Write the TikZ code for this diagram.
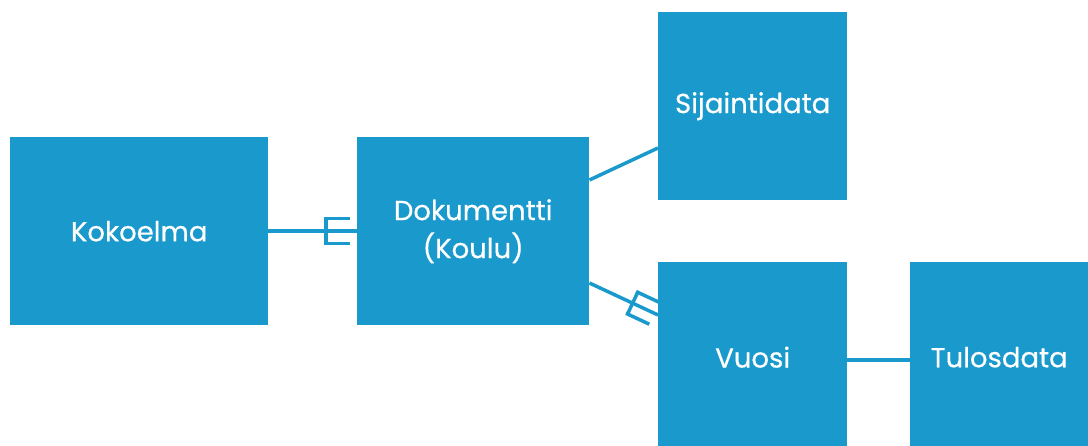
\documentclass[tikz,border=0pt]{standalone}
\usepackage{fontspec}
\newfontfamily\boxfont{Poppins}[FakeBold=0.5]
\usetikzlibrary{calc}
\definecolor{boxblue}{RGB}{26,153,204}
\tikzset{
  entity/.style={fill=boxblue, text=white, inner sep=0pt, anchor=north west,
    font=\boxfont\fontsize{27.5}{38}\selectfont, align=center},
  link/.style={draw=boxblue, line width=3.5pt},
}
\begin{document}
\begin{tikzpicture}[x=1pt,y=-1pt]
\useasboundingbox (0,0) rectangle (1088,446);
% entities
\node[entity, minimum width=258pt, minimum height=188pt] (kok) at (10,137) {\raisebox{-2pt}{Kokoelma}};
\node[entity, minimum width=232pt, minimum height=188pt] (dok) at (357,137) {\raisebox{-2pt}{Dokumentti}\\\raisebox{-2pt}{(Koulu)}};
\node[entity, minimum width=189pt, minimum height=188pt] (sij) at (658,12) {Sijaintidata};
\node[entity, minimum width=189pt, minimum height=190pt] (vuo) at (658,262) {Vuosi};
\node[entity, minimum width=178pt, minimum height=190pt] (tul) at (910,262) {Tulosdata};
% connection points on the box edges
\coordinate (dokR1) at ($(dok.north east)+(0,43)$);
\coordinate (sijL) at ($(sij.north west)+(0,136)$);
\coordinate (dokR2) at ($(dok.north east)+(0,146)$);
\coordinate (vuoL) at ($(vuo.north west)+(0,53)$);
% relations
\draw[link] (kok.east) -- (dok.west);
\draw[link] (dokR1) -- (sijL);
\draw[link] (dokR2) -- (vuoL);
\draw[link] ($(vuo.east)+(0,3)$) -- ($(tul.west)+(0,3)$);
% crow's foot: Kokoelma -> Dokumentti
\begin{scope}[shift={(dok.west)}]
  \draw[link] (-31,-12.5) -- (-31,12.5);
  \draw[link] (-32.75,-12.5) -- (-7,-12.5);
  \draw[link] (-32.75,12.5) -- (-7,12.5);
\end{scope}
% crow's foot: Dokumentti -> Vuosi
\begin{scope}[shift={(vuoL)}, rotate=-25]
  \draw[link] (-28,-12) -- (-28,12);
  \draw[link] (-29.75,-12) -- (-4,-12);
  \draw[link] (-29.75,12) -- (-4,12);
\end{scope}
\end{tikzpicture}
\end{document}
